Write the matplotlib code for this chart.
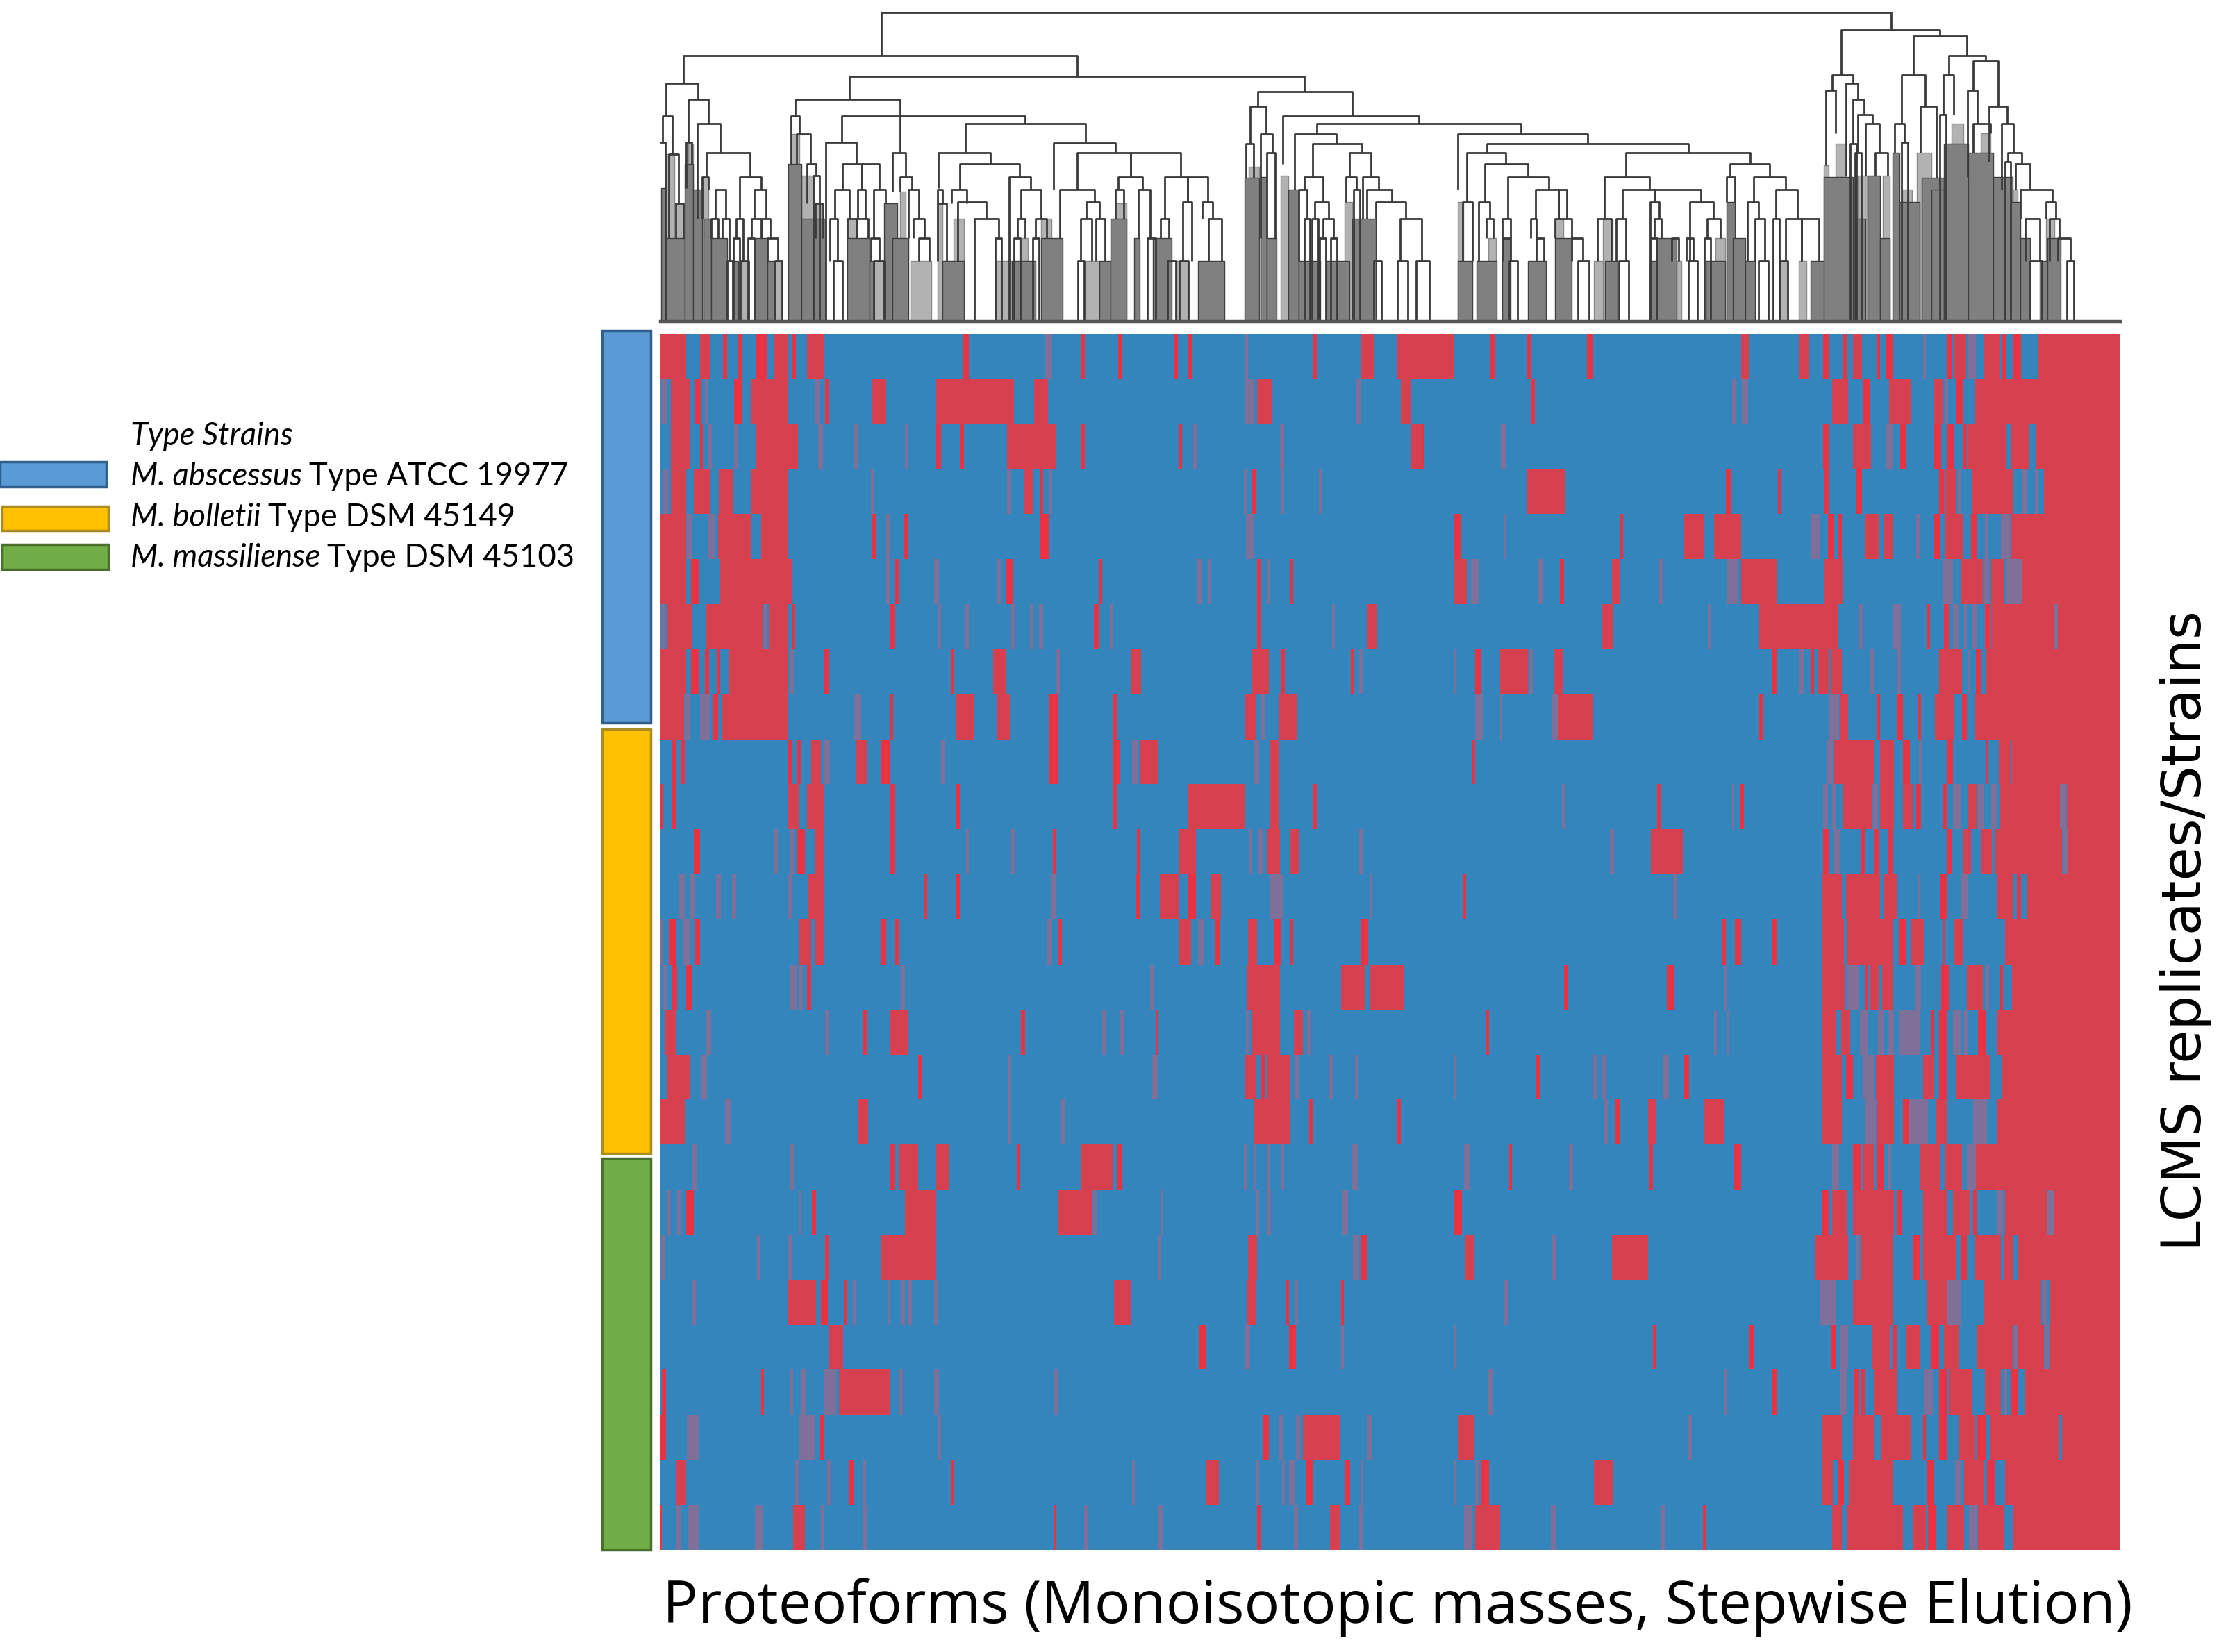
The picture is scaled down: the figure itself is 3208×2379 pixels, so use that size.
import numpy as np
import matplotlib
matplotlib.use("Agg")
import matplotlib.pyplot as plt
from matplotlib.collections import LineCollection
from matplotlib.colors import ListedColormap
from matplotlib.patches import Rectangle

W, H = 3208, 2379
OUT_PNG = "out.png"

# red spans per sample row, (start, end) on the proteoform scale, third item = pale stripe
RED_LEFT = [
    [(45,95),(122,142),(168,176),(196,204),(232,240),(240,255),(268,296),(303,311),(333,367),(638,650),(797,815,1),(870,878),(943,950),(1052,1060),(1080,1087),(1190,1200,1),(1326,1332),(1420,1445),(1490,1541)],
    [(45,60,1),(65,103),(112,124),(130,140,1),(190,205),(222,296),(345,360,1),(368,375),(460,486),(585,738),(778,805),(1190,1210,1),(1215,1245),(1410,1418,1),(1498,1516)],
    [(65,102),(122,128),(135,148,1),(190,196,1),(232,315),(352,366,1),(424,432,1),(525,531,1),(586,596),(632,640),(725,820),(870,878),(1062,1068),(1090,1098,1),(1260,1268,1),(1518,1542)],
    [(48,62,1),(65,95),(110,142),(160,188),(222,296),(458,464,1),(725,732,1),(758,776),(790,796),(805,815,1),(1190,1195,1),(1205,1214),(1262,1268,1),(1336,1342,1)],
    [(45,95),(95,110,1),(135,155,1),(158,222),(242,296),(460,468),(486,494,1),(522,530),(790,806),(1192,1212,1)],
    [(45,95),(105,120),(162,304),(488,496,1),(505,514),(580,594,1),(706,714,1),(724,736),(906,912),(1098,1106,1),(1116,1126,1),(1216,1222),(1234,1240,1),(1280,1286)],
    [(45,55,1),(58,108),(135,246),(246,256,1),(258,296),(303,310),(494,504),(588,595,1),(642,650,1),(732,740,1),(770,776,1),(788,796,1),(895,906),(925,935,1),(1216,1224),(1362,1368,1),(1432,1450)],
    [(45,95),(105,120),(132,140),(155,162),(178,296),(296,308,1),(366,375),(616,622),(697,724),(818,830,1),(968,988),(1206,1238),(1262,1270),(1400,1406),(1416,1424,1)],
    [(45,92),(92,105,1),(120,145,1),(148,158),(165,296),(422,440,1),(496,502),(625,660),(705,730),(808,824),(934,940),(1192,1212),(1222,1232,1),(1258,1294)],
    [(68,76),(85,93),(296,304),(314,322),(340,360),(365,380,1),(428,450),(478,494),(596,603,1),(808,824),(932,946),(968,985,1),(985,1022),(1208,1222,1),(1240,1258)],
    [(45,50),(68,76),(296,318),(332,366),(496,504),(625,632),(932,942),(1080,1192),(1240,1258),(1326,1332)],
    [(110,122),(268,275,1),(297,308,1),(312,328),(348,366),(496,504),(642,652,1),(733,740,1),(815,822),(980,986),(1062,1096),(1200,1206,1),(1218,1226,1),(1234,1260),(1280,1298),(1416,1424,1)],
    [(78,95,1),(104,112,1),(152,166,1),(186,194,1),(296,303,1),(334,366),(562,568),(626,632),(810,822,1),(978,986),(1024,1062),(1080,1096),(1126,1144),(1238,1268,1),(1436,1442,1)],
    [(45,50,1),(62,76),(88,104,1),(112,122),(318,340),(348,366),(478,486),(504,514),(800,815,1),(824,832),(1062,1086),(1098,1114,1),(1134,1142),(1198,1215),(1250,1262),(1280,1286),(1418,1434)],
    [(48,60,1),(68,78),(95,108),(296,316,1),(316,326,1),(332,340),(516,526,1),(1006,1014,1),(1196,1260),(1380,1426),(1438,1504)],
    [(55,75),(132,146,1),(368,376,1),(442,450),(494,530),(752,760),(912,920,1),(945,957,1),(1016,1022),(1192,1202,1),(1206,1260),(1288,1306),(1312,1322,1)],
    [(58,102),(124,138,1),(550,558),(726,732,1),(1008,1022,1),(1192,1212),(1222,1230),(1234,1280),(1290,1298,1),(1355,1366,1),(1408,1414,1)],
    [(45,94),(170,184,1),(432,452),(726,732,1),(828,840,1),(1208,1280),(1318,1324),(1490,1497)],
    [(106,118,1),(298,308,1),(496,504),(514,550),(584,612),(744,750),(870,932),(942,950),(1190,1196,1),(1206,1216,1),(1232,1242,1),(1262,1268,1),(1400,1416,1)],
    [(58,66,1),(78,86,1),(95,110),(316,322,1),(342,350),(525,584),(824,892),(892,904,1),(1026,1032,1),(1210,1222,1),(1236,1242,1),(1380,1396,1)],
    [(45,56,1),(234,240,1),(296,302,1),(368,376),(478,584),(1020,1030,1),(1198,1216),(1402,1418,1),(1420,1432)],
    [(108,114,1),(296,350),(360,374),(405,412),(420,430,1),(488,498,1),(516,526,1),(530,540,1),(580,592,1),(935,968),(1195,1214),(1272,1278),(1288,1298,1),(1380,1386)],
    [(375,404),(1102,1114),(1190,1204,1),(1278,1292),(1380,1386,1)],
    [(48,56),(242,248),(298,305,1),(322,330,1),(365,392,1),(395,495),(514,520,1),(580,594,1),(818,826,1)],
    [(45,56),(95,122,1),(315,350,1),(358,366),(590,596,1),(1226,1238),(1258,1266,1),(1290,1302,1),(1306,1378),(1432,1440,1)],
    [(75,95),(308,320,1),(370,382,1),(415,425),(442,448,1),(614,622),(970,976,1),(1115,1140),(1210,1222,1),(1264,1270,1),(1276,1292,1),(1312,1324),(1388,1398),(1418,1424,1)],
    [(45,48),(76,84,1),(98,122,1),(228,248,1),(305,328),(360,366,1),(442,450,1),(816,822),(876,884,1),(1018,1032,1),(1216,1222),(1288,1296,1),(1358,1378),(1416,1424,1)],
]
RED_RIGHT = [
    [(0,60),(132,140),(202,212),(320,330),(620,636),(732,752),(780,790),(818,826),(838,855),(885,890),(902,917),(975,980,1),(1022,1030),(1035,1058),(1060,1078,1),(1092,1124),(1130,1136),(1150,1165),(1198,1358)],
    [(210,218),(600,612,1),(620,636,1),(798,828),(858,872),(908,950),(995,1012),(1015,1025,1),(1040,1052),(1075,1358)],
    [(0,3),(150,165,1),(780,790),(838,873),(900,918,1),(930,940),(995,1010),(1022,1036),(1052,1060),(1062,1135),(1145,1180),(1195,1358)],
    [(202,276),(590,600),(692,698),(782,790),(845,855),(1005,1015),(1018,1040),(1040,1050,1),(1070,1150),(1165,1180,1),(1190,1200,1),(1210,1358)],
    [(60,74),(155,165,1),(384,390),(508,548),(568,620),(755,775,1),(790,800),(808,815),(862,888),(898,915),(962,968,1),(995,1008),(1018,1052),(1068,1080),(1095,1100,1),(1125,1145,1),(1145,1358)],
    [(60,85),(92,110,1),(222,236,1),(268,274),(368,384),(458,470,1),(590,615,1),(620,690),(782,818),(1010,1035,1),(1048,1090),(1092,1105,1),(1108,1132),(1135,1168,1),(1168,1358)],
    [(350,370),(555,562,1),(655,808),(848,858,1),(915,932,1),(982,988),(1015,1025),(1030,1045,1),(1052,1062,1),(1068,1082,1),(1095,1105),(1108,1228),(1228,1238,1),(1238,1358)],
    [(60,66,1),(102,114),(150,205),(205,215,1),(255,272),(682,690),(730,745,1),(755,762),(770,790),(795,815),(870,880,1),(925,930,1),(1005,1050),(1060,1068,1),(1078,1088),(1098,1358)],
    [(100,118,1),(150,155,1),(250,265,1),(265,332),(655,662),(790,812,1),(812,828),(885,890),(925,935),(965,970),(998,1035),(1050,1060),(1075,1358)],
    [(95,101),(785,800,1),(800,880),(890,918),(935,948),(965,975,1),(1020,1032),(1098,1100),(1122,1145),(1148,1358)],
    [(270,280,1),(456,463),(600,608,1),(618,625),(778,790,1),(795,805,1),(818,875),(875,888,1),(890,918),(935,955),(962,970),(1012,1022),(1030,1050,1),(1062,1080),(1080,1095,1),(1105,1120,1),(1125,1240),(1240,1255,1),(1255,1358)],
    [(365,372,1),(444,506),(780,790),(800,815,1),(855,862),(880,888),(905,915),(1020,1030),(1052,1068),(1088,1108),(1115,1245),(1245,1258,1),(1258,1358)],
    [(78,84),(485,497,1),(778,815),(825,890),(898,925),(962,970,1),(1008,1022),(1045,1065,1),(1120,1150),(1157,1165),(1178,1358)],
    [(582,590),(608,620),(682,690),(778,820),(828,915),(928,942),(952,975),(1012,1018),(1035,1052),(1135,1358)],
    [(275,282),(475,490),(585,595,1),(778,822),(825,850,1),(862,868),(872,888),(895,915),(958,972,1),(1010,1025),(1060,1090),(1095,1105,1),(1125,1130),(1148,1358)],
    [(122,128),(566,574,1),(590,598,1),(778,805),(815,832),(850,870,1),(885,900,1),(905,920,1),(925,970,1),(990,995),(1005,1020),(1030,1050,1),(1055,1062,1),(1082,1095),(1118,1358)],
    [(60,66,1),(220,227),(330,340,1),(347,358,1),(465,482,1),(508,518),(778,815),(825,838),(855,880,1),(882,918),(975,995),(1005,1020),(1040,1105),(1130,1358)],
    [(350,362,1),(375,384),(438,455),(547,586),(778,815),(858,885,1),(885,918),(935,945),(945,985,1),(1000,1022),(1070,1100,1),(1120,1358)],
    [(78,92,1),(168,174),(285,292,1),(440,448),(606,620),(795,812,1),(838,852),(858,878),(885,898),(905,912,1),(968,1008),(1018,1050),(1058,1078,1),(1078,1358)],
    [(60,75),(778,790),(798,825),(838,918),(925,932),(975,1022),(1032,1066),(1072,1080),(1118,1132,1),(1135,1215),(1215,1230,1),(1230,1358)],
    [(82,100),(250,262,1),(368,438),(765,828),(842,852,1),(855,915),(955,968),(975,1040),(1048,1060),(1075,1125),(1132,1150),(1160,1358)],
    [(158,165,1),(772,805,1),(838,915),(982,1020),(1020,1050,1),(1092,1205),(1205,1218,1),(1222,1358)],
    [(60,65,1),(448,454),(636,644),(795,805),(812,830,1),(875,910),(915,925),(942,968),(990,1005),(1015,1045),(1080,1150),(1150,1160,1),(1160,1210),(1210,1220,1),(1222,1358)],
    [(128,135,1),(586,594,1),(682,690),(812,828,1),(840,848),(855,862),(878,925),(975,995,1),(1005,1020),(1025,1070),(1095,1125),(1130,1140,1),(1145,1158),(1172,1358)],
    [(68,100),(515,525,1),(778,815),(838,878),(892,950),(975,980),(1005,1020),(1045,1075),(1080,1095),(1105,1238),(1245,1358)],
    [(60,66,1),(100,112,1),(115,128),(333,370),(778,798),(810,820),(830,915),(982,995),(1035,1050,1),(1055,1092),(1100,1115),(1135,1358)],
    [(78,98,1),(102,150),(248,262,1),(465,472,1),(546,552),(798,815),(828,935),(955,980),(985,1000),(1022,1055),(1062,1080,1),(1082,1132),(1150,1358)],
]

# dendrogram merges: (left leaf, right leaf, merge level, left child level, right child level)
TREE_LEFT = [
    (485,2383,55,240,130),(112,853,240,360,330),(425,1280,330,430,395),
    (80,140,360,500,430),(73,92,500,615,665),(85,103,665,1030,880),(98,112,880,1030,1030),(122,160,430,615,535),
    (118,128,615,815,710),(138,182,535,945,660),(155,238,660,765,765),(148,160,765,945,820),(172,192,820,945,945),
    (218,258,765,945,820),(245,268,820,945,945),(165,178,945,1030,1030),(185,198,945,1030,1130),(212,225,945,1030,1130),
    (240,258,945,1030,1030),(260,275,945,1030,1030),(270,290,1030,1130,1130),(195,205,1130,1390,1390),(220,235,1130,1390,1390),(285,298,1130,1390,1390),
    (322,520,430,500,660),(315,330,500,710,580),(325,352,580,710,710),(345,362,710,880,760),(360,375,880,1030,1030),
    (410,755,500,615,535),(380,438,615,1390,710),(412,448,710,820,820),(448,480,710,820,820),(397,425,820,945,945),(440,455,820,945,945),(470,492,820,1030,880),
    (505,530,660,830,765),(520,542,765,830,820),(535,555,820,1030,945),(545,565,945,1030,1030),(555,575,1030,1130,1130),
    (388,402,945,1130,1130),(395,412,1130,1390,1390),(420,438,945,1030,1030),(438,460,945,1030,1030),(465,480,1030,1130,1130),(470,490,1130,1390,1390),
    (642,868,535,660,615),(592,690,660,815,710),(632,745,710,820,765),(590,600,820,880,880),(590,607,880,1130,1130),(617,645,820,880,880),(628,682,875,1130,945),
    (660,705,945,1390,1030),(725,765,765,1390,820),(747,785,820,945,945),(740,755,945,1030,1030),(775,795,945,1030,1030),
    (808,925,618,820,660),(853,953,660,820,765),(953,1048,660,765,765),(820,885,820,1030,875),(870,895,875,945,945),(860,880,945,1130,1130),(888,905,945,1130,1130),
    (930,975,765,820,820),(925,940,820,945,945),(968,990,820,1030,1030),(1018,1060,765,945,875),(1060,1098,765,875,875),(1052,1068,875,1130,1130),(1088,1108,875,945,945),
    (1010,1025,945,1030,1030),(985,1000,1030,1390,1390),(1100,1125,945,1130,1130),(1022,1038,1130,1390,1390),(1045,1062,1130,1390,1390),
    (1192,1370,395,460,500),(1178,1208,460,620,580),(1170,1185,620,770,770),(1198,1220,580,1030,660),(1210,1225,660,1030,1030),
    (1240,1495,500,710,535),(1303,1688,535,580,580),(1262,1340,580,820,620),(1295,1388,620,765,660),(1365,1405,660,765,765),
    (1280,1315,765,820,875),(1270,1285,820,1130,945),(1300,1325,875,945,945),(1315,1335,945,1030,1030),(1358,1378,765,875,820),
    (1390,1420,765,945,820),(1398,1445,820,945,875),(1415,1470,875,945,945),(1460,1500,945,1130,1130),(1490,1515,1130,1390,1390),(1410,1425,1130,1390,1390),(1455,1475,1130,1390,1390),
    (1568,1813,580,820,620),
]
TREE_RIGHT = [
    (18,98,660,875,710),(55,143,710,875,765),(102,185,765,945,820),(158,205,820,945,945),(205,222,820,945,945),(10,30,875,1130,1130),(42,65,875,1130,945),
    (58,72,945,1030,1030),(90,108,945,1030,1030),(148,160,945,1030,1030),(160,175,1030,1130,1130),(198,232,945,1030,1030),(232,255,1030,1130,1130),(90,108,1030,1130,1130),(245,268,1130,1390,1390),(105,122,1130,1390,1390),
    (60,470,620,660,660),(342,595,660,765,710),(298,390,765,945,820),(335,400,820,945,875),(400,495,820,875,875),(285,312,945,1130,1130),(322,342,945,1130,1130),
    (392,410,875,1130,945),(400,415,945,1030,1030),(472,520,875,1130,945),(508,535,945,1030,1030),(465,480,1030,1130,1130),(470,488,1130,1390,1390),(435,450,1030,1130,1130),
    (555,635,710,765,765),(548,565,765,875,875),(602,668,765,875,820),(590,612,875,1130,945),(605,625,945,1130,1130),(648,692,820,945,945),(668,700,945,1130,1130),(700,735,945,1130,1130),
    (655,672,1130,1390,1390),(612,632,1130,1390,1390),(328,348,1130,1390,1390),
    (780,982,130,325,155),(928,1036,155,325,240),(1000,1075,240,325,265),(1050,1100,265,390,460),(762,805,325,390,360),(750,770,390,715,575),(790,815,360,760,430),(805,828,430,620,495),
    (815,845,495,660,535),(830,858,535,760,660),(850,875,660,760,760),(903,952,325,535,460),(890,910,535,660,615),(942,975,460,660,770),(988,1010,325,495,495),
    (1038,1058,390,765,535),(1050,1085,535,660,575),(1082,1118,460,700,535),(1108,1132,535,820,660),(1120,1148,660,700,710),(1135,1165,710,820,820),(1145,1210,820,945,875),(1198,1218,875,945,945),
    (1155,1185,945,1130,1130),(1205,1225,945,1130,1030),(1222,1248,1030,1130,1130),(1240,1255,1130,1390,1390),(1165,1190,1130,1390,1390),
]

# bundles of very close leaves, they merge into a grey band: (first leaf, last leaf, level)
PALE_LEFT = [(80,95,665),(95,112,880),(122,130,620),(148,160,765),(222,235,1130),(285,298,1130),(315,330,580),(335,358,760),(358,372,880),(420,438,945),(520,530,830),(540,578,1130),(472,490,1130),
             (590,600,880),(620,640,945),(700,730,1130),(745,760,1030),(785,805,945),(868,895,1130),(925,945,880),(1040,1060,1130),(1175,1195,720),(1235,1250,760),(1355,1370,875)]
DARK_LEFT = [(70,78,815),(78,115,1030),(115,130,710),(130,148,820),(150,165,945),(165,195,1030),(205,215,1130),(245,270,1030),(270,285,1130),
             (310,335,710),(335,380,945),(420,462,1030),(490,515,880),(505,535,1030),(462,470,1130),(600,640,1130),(730,775,1130),(785,825,1030),(895,915,1130),(915,945,945),(960,970,1030),(995,1030,1030),(1080,1130,1130),
             (1168,1195,770),(1198,1210,765),(1210,1228,1030),(1250,1270,820),(1270,1310,1130),(1320,1365,1130),(1370,1415,945)]
PALE_RIGHT = [(0,12,875),(62,78,1030),(200,215,945),(278,300,1130),(295,315,945),(435,455,1130),(525,545,1030),(655,672,1130),(695,710,1130),(745,755,715),(770,790,620),(815,835,760),(865,880,760),(905,925,820),(935,965,660),(1005,1030,535),(1065,1085,575),(1115,1140,820),(1198,1215,945)]
DARK_RIGHT = [(0,30,1130),(38,80,1130),(90,108,1030),(143,180,1130),(198,232,1030),(300,325,1130),(390,425,1130),(405,445,1030),(505,545,1130),(548,565,875),(560,585,1030),(585,605,1130),(718,750,1130),
              (745,805,765),(810,830,945),(835,860,760),(860,880,1030),(885,900,660),(900,940,875),(945,990,770),(965,990,820),(990,1040,620),(1040,1090,660),(1090,1130,765),(1125,1145,875),(1145,1165,1030),(1185,1200,1130),(1200,1228,1030)]

strain_names = ["M. abscessus", "M. bolletii", "M. massiliense"]
strain_types = ["Type ATCC 19977", "Type DSM 45149", "Type DSM 45103"]
strain_colors = ["#5b9bd5", "#ffc000", "#70ad47"]
strain_edges = ["#2f5f8f", "#a98c22", "#47702c"]
# where each species bar starts and ends, in sample rows
strain_rows = [(-0.08, 8.64), (8.77, 18.2), (18.3, 27.0)]

BASE = 1390
N_COLS = 2909
RIGHT_START = 1541
RIGHT_STRETCH = 1.007


def left_to_col(x):
    return 1.0433 * np.asarray(x, dtype=float) - 27.27


def right_to_col(x):
    return 1609 + 0.9636 * np.asarray(x, dtype=float)


def build_matrix():
    m = np.zeros((len(RED_LEFT), N_COLS), dtype=int)
    for i in range(len(RED_LEFT)):
        spans = [(s[0], s[1], len(s) > 2) for s in RED_LEFT[i]]
        spans += [(RIGHT_START + s[0] * RIGHT_STRETCH, RIGHT_START + s[1] * RIGHT_STRETCH, len(s) > 2) for s in RED_RIGHT[i]]
        for a, b, pale in spans:
            if pale:
                val = 3
                # pale stripes read wider than they are because of the blur
                if b - a > 8:
                    a, b = a + 2, b - 2
            elif b - a <= 16:
                val = 2
            else:
                val = 1
            m[i, int(a):int(round(b))] = val
    return m[:, 45:]


def px_axes(fig, x0, y0, x1, y1):
    return fig.add_axes([x0 / W, 1 - y1 / H, (x1 - x0) / W, (y1 - y0) / H])


def draw_tree(ax):
    merges, bands = [], []
    for table, conv in ((TREE_LEFT, left_to_col), (TREE_RIGHT, right_to_col)):
        t = np.array(table, dtype=float)
        merges.append(np.column_stack([conv(t[:, 0]), conv(t[:, 1]), t[:, 2], t[:, 3], t[:, 4]]))
    merges = np.vstack(merges)
    for pale, dark, conv in ((PALE_LEFT, DARK_LEFT, left_to_col), (PALE_RIGHT, DARK_RIGHT, right_to_col)):
        for table, colour, z, edge in ((pale, "#b2b2b2", 1, "#8a8a8a"), (dark, "#808080", 2, "#3f3f3f")):
            t = np.array(table, dtype=float)
            x0, x1 = conv(t[:, 0]), conv(t[:, 1])
            ax.bar(x0, BASE - t[:, 2], width=x1 - x0, align="edge", color=colour, edgecolor=edge, linewidth=1.0, zorder=z)
            bands.append(np.column_stack([x0, x1, t[:, 2]]))
    bands = np.vstack(bands)

    segs = []
    for xl, xr, lv, yl, yr in merges:
        segs.append([(xl, BASE - yl), (xl, BASE - lv), (xr, BASE - lv), (xr, BASE - yr)])
        for x, y in ((xl, yl), (xr, yr)):
            if y >= BASE:
                continue
            # a leg with no merge or band below it ends in a last pair of leaves
            has_merge = np.any((np.abs(merges[:, 2] - y) <= 15) & (merges[:, 0] - 14 <= x) & (merges[:, 1] + 14 >= x))
            has_band = np.any((bands[:, 0] - 4 <= x) & (bands[:, 1] + 4 >= x) & (bands[:, 2] <= y + 60))
            if not (has_merge or has_band):
                segs.append([(x - 6, 0), (x - 6, BASE - y), (x + 6, BASE - y), (x + 6, 0)])
    ax.add_collection(LineCollection(segs, colors="#3a3a3a", linewidths=2.0, zorder=3))
    ax.plot([45, N_COLS], [0, 0], color="#555555", lw=3.2, clip_on=False, zorder=4)
    ax.set_xlim(45, N_COLS)
    ax.set_ylim(0, BASE)
    ax.axis("off")


def draw_legend(fig):
    renderer = fig.canvas.get_renderer()
    boxes = [(0, 665, 153, 701), (3, 729, 156, 764), (3, 784, 156, 820)]
    y_text = [686, 745, 803]
    fig.text(188 / W, 1 - 628 / H, "Type Strains", style="italic", family="Lato", fontsize=32.8, va="center")
    for i in range(3):
        x0, y0, x1, y1 = boxes[i]
        fig.add_artist(Rectangle((x0 / W, 1 - y1 / H), (x1 - x0) / W, (y1 - y0) / H, transform=fig.transFigure,
                                 facecolor=strain_colors[i], edgecolor=strain_edges[i], linewidth=2.5))
        t = fig.text(188 / W, 1 - y_text[i] / H, strain_names[i], style="italic", family="Lato", fontsize=32.8, va="center")
        end = t.get_window_extent(renderer).x1
        fig.text(end / W + 10 / W, 1 - y_text[i] / H, strain_types[i], family="Lato", fontsize=32.8, va="center")


def main():
    fig = plt.figure(figsize=(W / 100, H / 100), dpi=100)

    ax_heat = px_axes(fig, 951, 481, 3053, 2232)
    cmap = ListedColormap(["#3585bd", "#d6404f", "#ea3243", "#7f7099"])
    ax_heat.imshow(build_matrix(), aspect="auto", cmap=cmap, vmin=0, vmax=3, interpolation="nearest")
    ax_heat.axis("off")

    ax_tree = px_axes(fig, 951, 0, 3053, 463)
    draw_tree(ax_tree)

    # one bar per species down the left of the heatmap
    ax_side = px_axes(fig, 866, 481, 938, 2232)
    for (r0, r1), col, edge in zip(strain_rows, strain_colors, strain_edges):
        ax_side.bar(0.5, r1 - r0, bottom=r0, width=0.96, color=col, edgecolor=edge, linewidth=2.5, clip_on=False)
    ax_side.set_xlim(0, 1)
    ax_side.set_ylim(27, 0)
    ax_side.axis("off")

    draw_legend(fig)

    fig.text(954 / W, 1 - 2315 / H, "Proteoforms (Monoisotopic masses, Stepwise Elution)",
             family="Open Sans", fontsize=61, va="center", ha="left")
    fig.text(3147 / W, 1 - 1340 / H, "LCMS replicates/Strains", family="DejaVu Sans", fontsize=56.4,
             rotation=90, va="center", ha="center")

    fig.savefig(OUT_PNG, dpi=100)
    plt.close(fig)


if __name__ == "__main__":
    main()
